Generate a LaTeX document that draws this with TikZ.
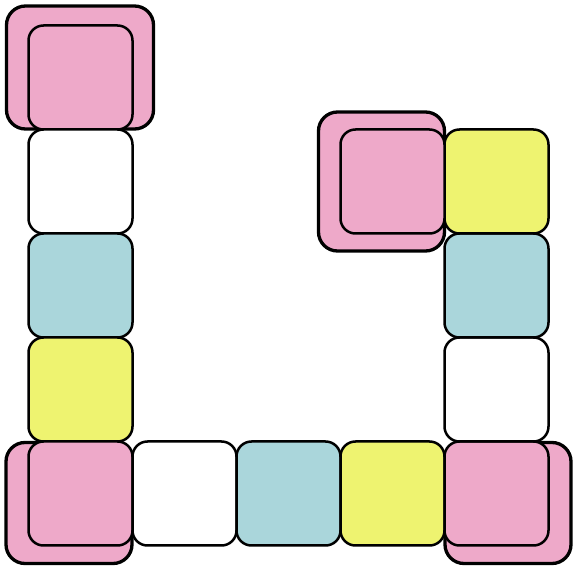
\documentclass[tikz,border=0pt]{standalone}
\usetikzlibrary{positioning}
\definecolor{cpink}{RGB}{238,169,201}
\definecolor{cyel}{RGB}{238,243,112}
\definecolor{cblue}{RGB}{170,214,219}
\tikzset{
  sq/.style={draw=black, line width=2.5pt, rounded corners=15pt, minimum width=104pt, minimum height=104pt, inner sep=0pt, outer sep=0pt},
  big/.style={draw=black, line width=3.3pt, rounded corners=19pt, inner sep=0pt, outer sep=0pt, fill=cpink},
}
\begin{document}
\begin{tikzpicture}[x=1pt,y=-1pt]
\useasboundingbox (0,0) rectangle (574,569);
% outer pink boxes
\node[big, minimum width=147pt, minimum height=123pt] (o1) at (80,67.5) {};
\node[big, minimum width=126pt, minimum height=121pt] (o2) at (69,503) {};
\node[big, minimum width=126pt, minimum height=121pt] (o3) at (508,503) {};
\node[big, minimum width=126pt, minimum height=139pt] (o4) at (381.5,181.5) {};
% inner squares
\node[sq, fill=cpink] (a1) at (80.5,77.5) {};
\node[sq, fill=white] (a2) at (80.5,181.5) {};
\node[sq, fill=cblue] (a3) at (80.5,285.5) {};
\node[sq, fill=cyel] (a4) at (80.5,389.5) {};
\node[sq, fill=cpink] (a5) at (80.5,493.5) {};
\node[sq, fill=white] (b1) at (184.5,493.5) {};
\node[sq, fill=cblue] (b2) at (288.5,493.5) {};
\node[sq, fill=cyel] (b3) at (392.5,493.5) {};
\node[sq, fill=cpink] (b4) at (496.5,493.5) {};
\node[sq, fill=white] (c1) at (496.5,389.5) {};
\node[sq, fill=cblue] (c2) at (496.5,285.5) {};
\node[sq, fill=cyel] (c3) at (496.5,181.5) {};
\node[sq, fill=cpink] (m1) at (392.5,181.5) {};
\end{tikzpicture}
\end{document}
